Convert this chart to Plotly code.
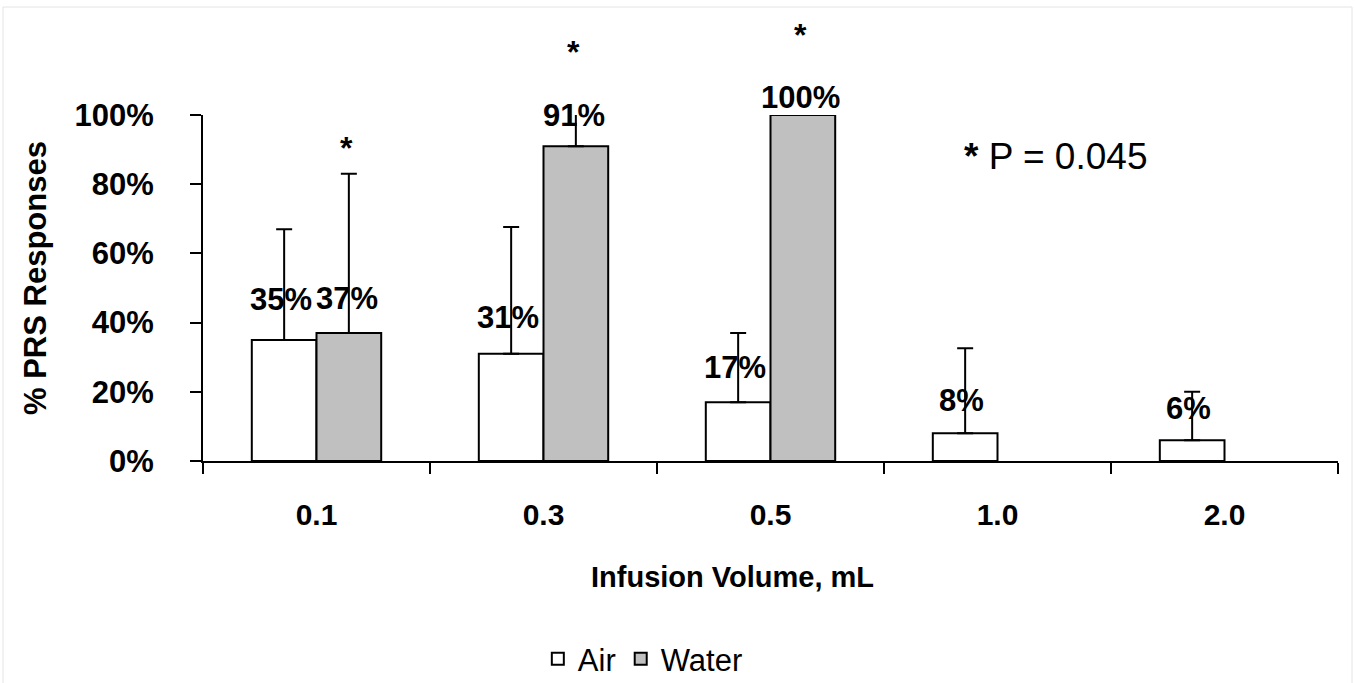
import plotly.graph_objects as go

categories = ["0.1", "0.3", "0.5", "1.0", "2.0"]
air_values = [35, 31, 17, 8, 6]
water_values = [37, 91, 100, None, None]
air_err = [32, 36.6, 20, 24.6, 14]
water_err = [46, 10.5, 0, None, None]
air_labels = ["35%", "31%", "17%", "8%", "6%"]
water_labels = ["37%", "91%", "100%", None, None]
star_y = [92.5, 120.2, 125.1]          # asterisks over water bars (data units)
ytick_vals = [0, 20, 40, 60, 80, 100]
ytick_text = ["0%", "20%", "40%", "60%", "80%", "100%"]

FONT = "Liberation Sans, Arial, sans-serif"
Y_MAX = 100

fig = go.Figure()
fig.add_trace(go.Bar(
    name="Air", x=categories, y=air_values,
    marker=dict(color="white", line=dict(color="black", width=2)),
    error_y=dict(type="data", array=air_err, arrayminus=[0]*5, symmetric=False,
                 color="black", thickness=2, width=8),
))
fig.add_trace(go.Bar(
    name="Water", x=categories, y=water_values,
    marker=dict(color="#c0c0c0", line=dict(color="black", width=2)),
    error_y=dict(type="data", array=water_err, arrayminus=[0]*5, symmetric=False,
                 color="black", thickness=2, width=8),
))

annotations = []
# pixel offsets of labels above bar tops
air_lab_shift = [40, 36, 35, 33, 32]
water_lab_shift = [34, 31, 18, 0, 0]
BAR_OFF = 33
for i, c in enumerate(categories):
    annotations.append(dict(x=i, y=air_values[i], text=air_labels[i], showarrow=False,
                            xref="x", yref="y", xshift=-BAR_OFF - 3, yshift=air_lab_shift[i],
                            yanchor="middle",
                            font=dict(family=FONT, size=31, color="black", weight="bold")))
    if water_labels[i] is not None:
        annotations.append(dict(x=i, y=water_values[i], text=water_labels[i], showarrow=False,
                                xref="x", yref="y", xshift=BAR_OFF - 3, yshift=water_lab_shift[i],
                                yanchor="middle",
                                font=dict(family=FONT, size=31, color="black", weight="bold")))
for i, sy in enumerate(star_y):
    annotations.append(dict(x=i, y=sy / Y_MAX, text="*", showarrow=False,
                            xref="x", yref="y domain", xshift=BAR_OFF - 3, yshift=-7,
                            yanchor="middle",
                            font=dict(family=FONT, size=32, color="black", weight="bold")))
annotations.append(dict(x=(962 - 203) / 1135, y=(461 - 156) / 346, xref="paper", yref="paper",
                        text="<b>*</b> P = 0.045", showarrow=False, xanchor="left", yanchor="middle",
                        font=dict(family=FONT, size=37, color="black")))
annotations.append(dict(x=(732 - 203) / 1135, y=(461 - 577) / 346, xref="paper", yref="paper",
                        text="Infusion Volume, mL", showarrow=False, xanchor="center", yanchor="middle",
                        font=dict(family=FONT, size=29, color="black", weight="bold")))
annotations.append(dict(x=(35 - 203) / 1135, y=(461 - 278) / 346, xref="paper", yref="paper",
                        text="% PRS Responses", showarrow=False, xanchor="center", yanchor="middle",
                        textangle=-90,
                        font=dict(family=FONT, size=31, color="black", weight="bold")))

fig.update_layout(
    width=1355, height=683,
    margin=dict(l=203, r=17, t=115, b=222, autoexpand=False),
    paper_bgcolor="white", plot_bgcolor="white",
    barmode="group", bargap=0.43, bargroupgap=0,
    font=dict(family=FONT, color="black"),
    showlegend=True,
    legend=dict(orientation="h", x=0.295, y=(683 - 632) / 683, yref="container",
                xanchor="left", yanchor="top",
                font=dict(family=FONT, size=31, color="black"),
                itemwidth=30, traceorder="normal"),
    annotations=annotations,
    shapes=[dict(type="rect", xref="paper", yref="paper",
                 x0=(3 - 203) / 1135, x1=(1352 - 203) / 1135,
                 y0=(461 - 690) / 346, y1=(461 - 7) / 346,
                 line=dict(color="#e4e4e4", width=1), fillcolor="rgba(0,0,0,0)", layer="below")],
)
fig.update_xaxes(
    type="category", showline=True, linecolor="black", linewidth=2,
    ticks="outside", tickson="boundaries", ticklen=11, tickwidth=2, tickcolor="black",
    showgrid=False, zeroline=False, ticklabelstandoff=26, automargin=False,
    tickfont=dict(family=FONT, size=30, color="black", weight="bold"),
)
fig.update_yaxes(
    range=[0, Y_MAX], showline=True, linecolor="black", linewidth=2,
    tickvals=ytick_vals, ticktext=ytick_text,
    ticks="outside", ticklen=11, tickwidth=2, tickcolor="black",
    showgrid=False, zeroline=False, ticklabelstandoff=30, automargin=False,
    tickfont=dict(family=FONT, size=31, color="black", weight="bold"),
)

fig.write_html("out.html")
